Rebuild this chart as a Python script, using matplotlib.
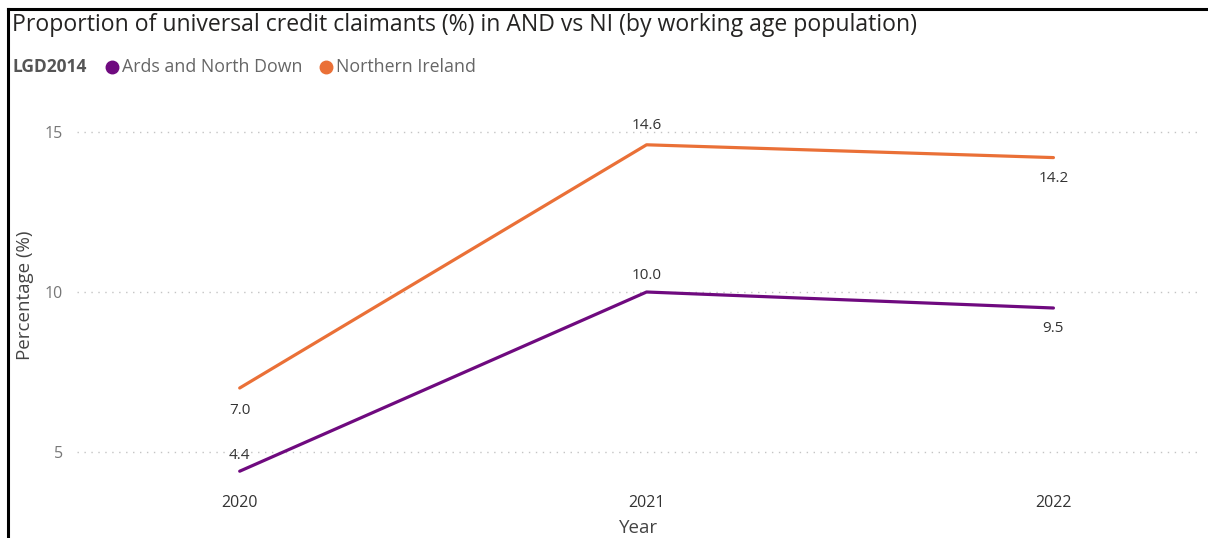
import matplotlib.pyplot as plt
from matplotlib.lines import Line2D

years = [2020, 2021, 2022]
ards = [4.4, 10.0, 9.5]
ni = [7.0, 14.6, 14.2]
series_names = ["Ards and North Down", "Northern Ireland"]

purple = "#6f0a7f"
orange = "#ea7037"

plt.rcParams["font.family"] = ["Open Sans", "DejaVu Sans"]

fig = plt.figure(figsize=(12.08, 5.38), dpi=100)
ax = fig.add_axes([0.0637, 0.1063, 0.9296, 0.690])

ax.plot(years, ards, color=purple, lw=2.3, solid_capstyle="round")
ax.plot(years, ni, color=orange, lw=2.3, solid_capstyle="round")

# data labels (offset in points: + above, - below)
ards_off = [11, 12, -15]
ni_off = [-16, 14, -15]
for x, y, o in zip(years, ards, ards_off):
    ax.annotate(f"{y:.1f}", (x, y), xytext=(0, o), textcoords="offset points",
                ha="center", va="center", fontsize=11, color="#333333")
for x, y, o in zip(years, ni, ni_off):
    ax.annotate(f"{y:.1f}", (x, y), xytext=(0, o), textcoords="offset points",
                ha="center", va="center", fontsize=11, color="#333333")

ax.set_xlim(2019.6, 2022.36)
ax.set_ylim(4.1, 15.7)
ax.set_xticks(years)
ax.set_xticklabels([str(y) for y in years], fontsize=11.5, color="#333333")
ax.set_yticks([5, 10, 15])
ax.set_yticklabels(["5", "10", "15"], fontsize=11.5, color="#777777")
ax.tick_params(length=0, pad=10)
ax.tick_params(axis="x", pad=10)
ax.grid(axis="y", color="#c4c4c4", linestyle=(0, (1, 4)), lw=1)
ax.set_axisbelow(True)
for s in ax.spines.values():
    s.set_visible(False)

ax.set_xlabel("Year", fontsize=13.5, color="#444444", labelpad=6)
ax.set_ylabel("Percentage (%)", fontsize=13.5, color="#444444", labelpad=8)

# title and legend
fig.text(12 / 1208, 1 - 25 / 538, "Proportion of universal credit claimants (%) in AND vs NI (by working age population)",
         fontsize=16.6, color="#252423", va="center", ha="left")
fig.text(12 / 1208, 1 - 67 / 538, "LGD2014", fontsize=12.5, fontweight="bold", color="#555555",
         va="center", ha="left")
leg_x = [112, 326]
for lx, name, c in zip(leg_x, series_names, [purple, orange]):
    fig.add_artist(Line2D([lx / 1208], [1 - 67 / 538], marker="o", markersize=9,
                          color=c, transform=fig.transFigure))
    fig.text((lx + 10) / 1208, 1 - 67 / 538, name, fontsize=12.8, color="#666666",
             va="center", ha="left")

# screenshot border
fig.add_artist(Line2D([8 / 1208, 8 / 1208], [0, 1 - 9 / 538], color="black", lw=2.2,
                      transform=fig.transFigure))
fig.add_artist(Line2D([8 / 1208, 1], [1 - 9 / 538, 1 - 9 / 538], color="black", lw=2.2,
                      transform=fig.transFigure))

fig.savefig("out.png", dpi=100, facecolor="white")
